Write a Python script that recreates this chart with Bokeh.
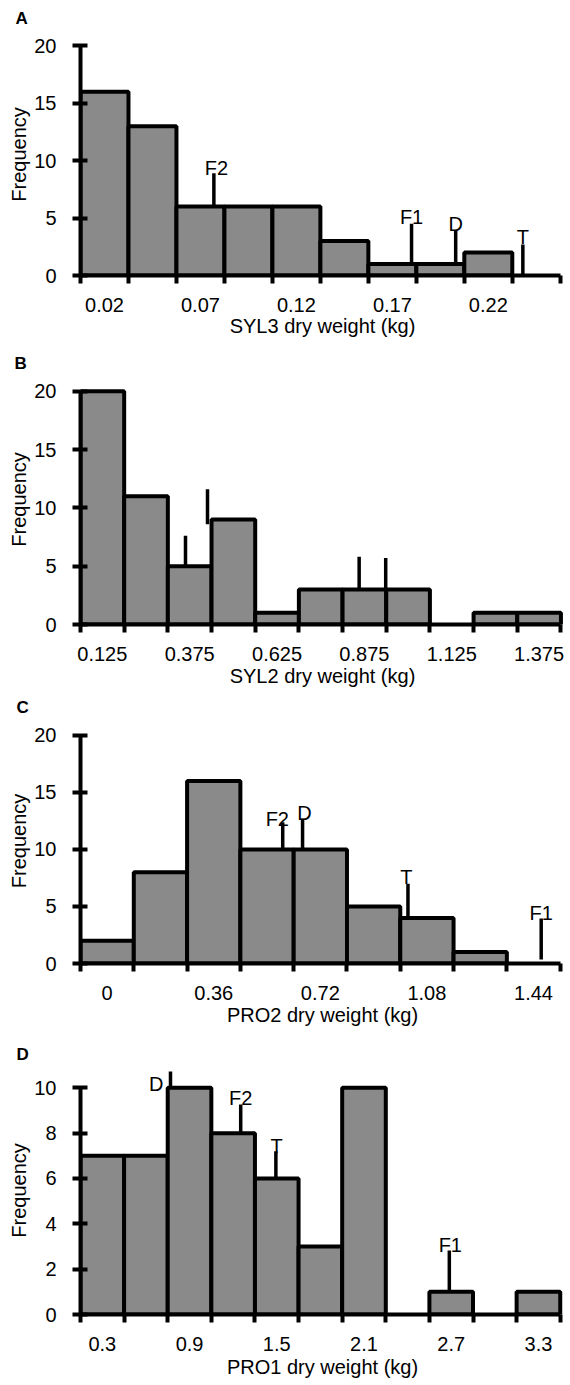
from bokeh.plotting import figure
from bokeh.layouts import column
from bokeh.models import Range1d, FixedTicker, Title, ColumnDataSource
from bokeh.core.properties import value
from bokeh.embed import file_html
from bokeh.resources import INLINE

# ---------------- data ----------------
# Panel A: SYL3
a_counts = [16, 13, 6, 6, 6, 3, 1, 1, 2, 0]
a_first_edge = 0.0075
a_bin_width = 0.025
a_tick_labels = ["0.02", "0.07", "0.12", "0.17", "0.22"]
a_mark_names = ["F2", "F1", "D", "T"]
a_mark_x = [0.077, 0.180, 0.203, 0.238]
a_mark_base = [6, 1, 1, 0]
a_mark_top = [8.9, 4.5, 3.95, 2.7]

# Panel B: SYL2
b_counts = [20, 11, 5, 9, 1, 3, 3, 3, 0, 1, 1]
b_first_edge = 0.0625
b_bin_width = 0.125
b_tick_labels = ["0.125", "0.375", "0.625", "0.875", "1.125", "1.375"]
b_mark_names = ["", "", "", ""]
b_mark_x = [0.363, 0.426, 0.860, 0.936]
b_mark_base = [5, 8.6, 3, 3]
b_mark_top = [7.6, 11.6, 5.8, 5.7]

# Panel C: PRO2
c_counts = [2, 8, 16, 10, 10, 5, 4, 1, 0]
c_first_edge = -0.09
c_bin_width = 0.18
c_tick_labels = ["0", "0.36", "0.72", "1.08", "1.44"]
c_mark_names = ["F2", "D", "T", "F1"]
c_mark_x = [0.593, 0.660, 1.016, 1.466]
c_mark_base = [10, 10, 4, 0.35]
c_mark_top = [12.4, 12.7, 7.0, 3.95]

# Panel D: PRO1
d_counts = [7, 7, 10, 8, 6, 3, 10, 0, 1, 0, 1]
d_first_edge = 0.15
d_bin_width = 0.3
d_tick_labels = ["0.3", "0.9", "1.5", "2.1", "2.7", "3.3"]
d_mark_names = ["D", "F2", "T", "F1"]
d_mark_x = [0.769, 1.252, 1.494, 2.687]
d_mark_base = [10, 8, 6, 1]
d_mark_top = [10.72, 9.26, 7.2, 2.82]

y_ticks_20 = [0, 5, 10, 15, 20]
y_ticks_10 = [0, 2, 4, 6, 8, 10]

# ---------------- style ----------------
FONT = "Liberation Sans"
FILL = "#8a8a8a"
W = 570
FS = "20px"


def make_panel(letter, counts, e0, bw, tick_labels, yticks, xlabel,
               names, mx, mbase, mtop, lab_style, geo):
    n = len(counts)
    edges = [e0 + k * bw for k in range(n + 1)]
    left = [edges[i] for i in range(n) if counts[i] > 0]
    right = [edges[i + 1] for i in range(n) if counts[i] > 0]
    top = [counts[i] for i in range(n) if counts[i] > 0]

    p = figure(width=W, height=geo["h"], output_backend="svg", toolbar_location=None,
               x_range=Range1d(edges[0], geo["x_end"]),
               y_range=Range1d(0, geo["y_end"]),
               min_border_left=geo["l"], min_border_right=geo["r"],
               min_border_top=21 + geo["tstand"], min_border_bottom=geo["b"])
    p.grid.visible = False
    p.outline_line_color = None
    p.background_fill_color = "white"
    p.border_fill_color = "white"

    p.add_layout(Title(text=letter, align="left", offset=geo["toff"],
                       standoff=geo["tstand"], text_font=FONT,
                       text_font_size="17px", text_font_style="bold",
                       text_color="black"), "above")

    p.quad(left=left, right=right, bottom=0, top=top,
           fill_color=FILL, line_color="black", line_width=4)

    p.segment(x0=mx, y0=mbase, x1=mx, y1=mtop, line_color="black", line_width=3.5)

    if any(names):
        src = ColumnDataSource(dict(x=mx, y=mtop, text=names,
                                    xo=lab_style["xo"], yo=lab_style["yo"],
                                    al=lab_style["al"]))
        p.text(x="x", y="y", text="text", x_offset="xo", y_offset="yo",
               text_align="al", text_baseline="alphabetic",
               text_font=value(FONT), text_font_size=FS, text_color="black",
               source=src)

    # x axis: labels at bin centres, tick marks at bin edges
    centers = [float(s) for s in tick_labels]
    xa = p.xaxis[0]
    xa.ticker = FixedTicker(ticks=centers, minor_ticks=edges)
    xa.major_label_overrides = {c: s for c, s in zip(centers, tick_labels)}
    xa.bounds = (edges[0], edges[-1])
    xa.axis_line_width = 4
    xa.axis_line_color = "black"
    xa.major_tick_out = 0
    xa.major_tick_in = 0
    xa.major_tick_line_color = None
    xa.minor_tick_out = 8
    xa.minor_tick_in = 0
    xa.minor_tick_line_width = 4
    xa.minor_tick_line_color = "black"
    xa.major_label_standoff = geo["xstand"]
    xa.major_label_text_font = FONT
    xa.major_label_text_font_size = FS
    xa.major_label_text_color = "black"
    xa.axis_label = xlabel
    xa.axis_label_standoff = geo["xlstand"]
    xa.axis_label_text_font = FONT
    xa.axis_label_text_font_size = FS
    xa.axis_label_text_font_style = "normal"
    xa.axis_label_text_color = "black"

    ya = p.yaxis[0]
    ya.ticker = FixedTicker(ticks=yticks)
    ya.bounds = (yticks[0], yticks[-1])
    ya.axis_line_width = 4
    ya.axis_line_color = "black"
    ya.major_tick_out = 8
    ya.major_tick_in = 7
    ya.major_tick_line_width = 4
    ya.major_tick_line_color = "black"
    ya.minor_tick_line_color = None
    ya.major_label_standoff = 16
    ya.major_label_text_font = FONT
    ya.major_label_text_font_size = FS
    ya.major_label_text_color = "black"
    ya.axis_label = "Frequency"
    ya.axis_label_standoff = 1
    ya.axis_label_text_font = FONT
    ya.axis_label_text_font_size = FS
    ya.axis_label_text_font_style = "normal"
    ya.axis_label_text_color = "black"
    return p


geo_a = dict(h=350, l=77, r=6, b=75, x_end=0.2597, y_end=21.08,
             toff=-65, tstand=12, xstand=14, xlstand=0)
geo_b = dict(h=344, l=80, r=3, b=70, x_end=1.4477, y_end=21.43,
             toff=-66, tstand=3, xstand=14, xlstand=1)
geo_c = dict(h=346, l=77, r=4, b=77, x_end=1.5447, y_end=21.49,
             toff=-64, tstand=3, xstand=14, xlstand=1)
geo_d = dict(h=345, l=78, r=3, b=71, x_end=3.4793, y_end=10.94,
             toff=-64, tstand=5, xstand=14, xlstand=2)

lab_a = dict(xo=[2.5, 0, 0, 0], yo=[-5.5, -6.5, -6.5, -7.5],
             al=["center"] * 4)
lab_b = dict(xo=[0] * 4, yo=[0] * 4, al=["center"] * 4)
lab_c = dict(xo=[-5.4, 1.8, -1.5, 0], yo=[-3.2, -5.8, -7, -5.8],
             al=["center"] * 4)
lab_d = dict(xo=[-7, 0, 0.8, 1], yo=[12.5, -6.2, -5.6, -5.5],
             al=["right", "center", "center", "center"])

pa = make_panel("A", a_counts, a_first_edge, a_bin_width, a_tick_labels, y_ticks_20,
                "SYL3 dry weight (kg)", a_mark_names, a_mark_x, a_mark_base, a_mark_top,
                lab_a, geo_a)
pb = make_panel("B", b_counts, b_first_edge, b_bin_width, b_tick_labels, y_ticks_20,
                "SYL2 dry weight (kg)", b_mark_names, b_mark_x, b_mark_base, b_mark_top,
                lab_b, geo_b)
pc = make_panel("C", c_counts, c_first_edge, c_bin_width, c_tick_labels, y_ticks_20,
                "PRO2 dry weight (kg)", c_mark_names, c_mark_x, c_mark_base, c_mark_top,
                lab_c, geo_c)
pd_ = make_panel("D", d_counts, d_first_edge, d_bin_width, d_tick_labels, y_ticks_10,
                 "PRO1 dry weight (kg)", d_mark_names, d_mark_x, d_mark_base, d_mark_top,
                 lab_d, geo_d)

layout = column(pa, pb, pc, pd_, spacing=0)
open("out.html", "w").write(file_html(layout, INLINE))
